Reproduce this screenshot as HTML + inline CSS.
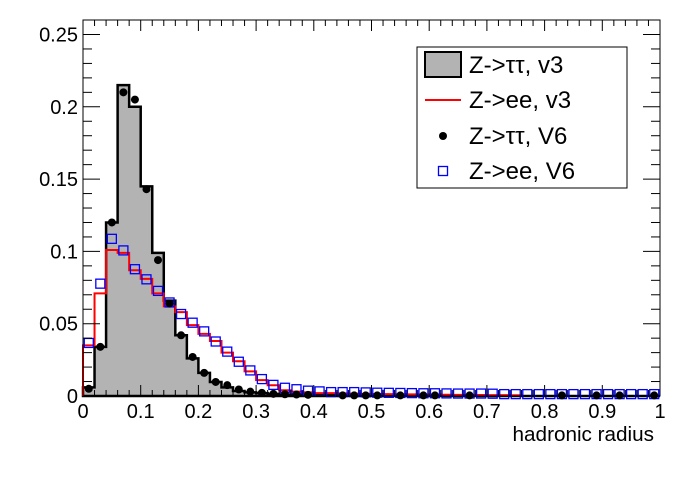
<!DOCTYPE html>
<html><head><meta charset="utf-8"><style>
body{margin:0;background:#fff;}
svg text{font-family:"Liberation Sans",Arial,sans-serif;}
</style></head><body>
<svg id="s" width="696" height="472" xmlns="http://www.w3.org/2000/svg"></svg>
<script>
const L=83,R=660,T=20,B=396;
const X=v=>L+(R-L)*v, Y=v=>B-v*(B-34.5)/0.25;
let h='';
const grey=[0.006,0.034,0.12,0.215,0.2,0.145,0.099,0.066,0.042,0.026,0.016,0.0097,0.006,0.0035,0.0025,0.002,0.0015,0.001,0.001,0.0008,0.0006,0.0005,0.0005,0.0004,0.0004,0.0003,0.0003,0.0003,0.0002,0.0002,0.0002,0.0002,0.0001,0.0001,0.0001,0.0001,0.0001,0.0001,0,0,0,0,0,0,0,0,0,0,0,0];
const dots=[0.005,0.034,0.12,0.21,0.205,0.143,0.094,0.064,0.042,0.027,0.016,0.0097,0.0075,0.0045,0.003,0.0022,0.0015,0.0012,0.001,0.0008];
const red=[0.035,0.071,0.101,0.099,0.087,0.081,0.071,0.062,0.058,0.049,0.043,0.038,0.030,0.024,0.017,0.011,0.0074,0.004,0.003,0.0025,0.002,0.002,0.0018,0.0016,0.0015,0.0014,0.0013,0.0012,0.0011,0.001,0.001,0.0009,0.0008,0.0008,0.0007,0.0006,0.0006,0.0005];
const blue=[0.036,0.077,0.108,0.1,0.087,0.08,0.072,0.064,0.056,0.05,0.044,0.037,0.03,0.023,0.017,0.011,0.007,0.005,0.004,0.003,0.0025,0.002,0.002,0.002,0.0018,0.0016,0.0015,0.0014,0.0013,0.0012,0.0012,0.0011,0.001,0.001,0.001,0.0009];
while(blue.length<50)blue.push(0.0006);
function step(a,fill,stroke,w){let d='M'+X(0)+','+B;a.forEach((v,i)=>{d+=' L'+X(i*0.02)+','+Y(v)+' L'+X((i+1)*0.02)+','+Y(v);});d+=' L'+X(a.length*0.02)+','+B;
return `<path d="${d}${fill!='none'?' Z':''}" fill="${fill}" stroke="${stroke}" stroke-width="${w}"/>`;}
h+=step(grey,'#b3b3b3','#000',2.5);
h+=step(red,'none','#f00',2);
blue.forEach((v,i)=>{const cx=X(i*0.02+0.01),cy=Y(v)-1;h+=`<rect x="${cx-4.5}" y="${cy-4.5}" width="9" height="9" fill="none" stroke="#00f" stroke-width="1.3"/>`;});
dots.forEach((v,i)=>{const cx=X(i*0.02+0.01),cy=Y(v);h+=`<circle cx="${cx}" cy="${cy}" r="4" fill="#000"/>`;});
[0.45,0.47,0.49,0.51,0.55,0.59,0.61,0.67,0.83,0.89,0.93,0.99].forEach(x=>h+=`<circle cx="${X(x)}" cy="${Y(0.0004)}" r="4" fill="#000"/>`);
h+=`<rect x="${L}" y="${T}" width="${R-L}" height="${B-T}" fill="none" stroke="#000" stroke-width="1"/>`;
for(let i=0;i<=50;i++){const x=X(i*0.02),l=i%5==0?11:6;h+=`<line x1="${x}" y1="${B}" x2="${x}" y2="${B-l}" stroke="#000"/><line x1="${x}" y1="${T}" x2="${x}" y2="${T+l}" stroke="#000"/>`;}
for(let i=0;i<=25;i++){const y=Y(i*0.01),l=i%5==0?17:9;h+=`<line x1="${L}" y1="${y}" x2="${L+l}" y2="${y}" stroke="#000"/><line x1="${R}" y1="${y}" x2="${R-l}" y2="${y}" stroke="#000"/>`;}
['0','0.1','0.2','0.3','0.4','0.5','0.6','0.7','0.8','0.9','1'].forEach((t,i)=>h+=`<text x="${X(i*0.1)}" y="${B+22}" font-size="20" text-anchor="middle">${t}</text>`);
['0','0.05','0.1','0.15','0.2','0.25'].forEach((t,i)=>h+=`<text x="${L-5}" y="${Y(i*0.05)+7}" font-size="20" text-anchor="end">${t}</text>`);
h+=`<text x="654" y="441" font-size="20.7" text-anchor="end">hadronic radius</text>`;
h+=`<rect x="417" y="47" width="210" height="141" fill="#fff" stroke="#000"/>`;
h+=`<rect x="425" y="52" width="36" height="25" fill="#b3b3b3" stroke="#000" stroke-width="2"/>`;
h+=`<line x1="425" y1="100" x2="461" y2="100" stroke="#f00" stroke-width="2"/>`;
h+=`<circle cx="443" cy="136" r="4" fill="#000"/>`;
h+=`<rect x="438.5" y="166.5" width="9" height="9" fill="none" stroke="#00f" stroke-width="1.3"/>`;
[['Z->ττ, v3',73],['Z->ee, v3',108],['Z->ττ, V6',144],['Z->ee, V6',179]].forEach(a=>h+=`<text x="469" y="${a[1]}" font-size="24">${a[0]}</text>`);
document.getElementById('s').innerHTML=h;
</script>
</body></html>
